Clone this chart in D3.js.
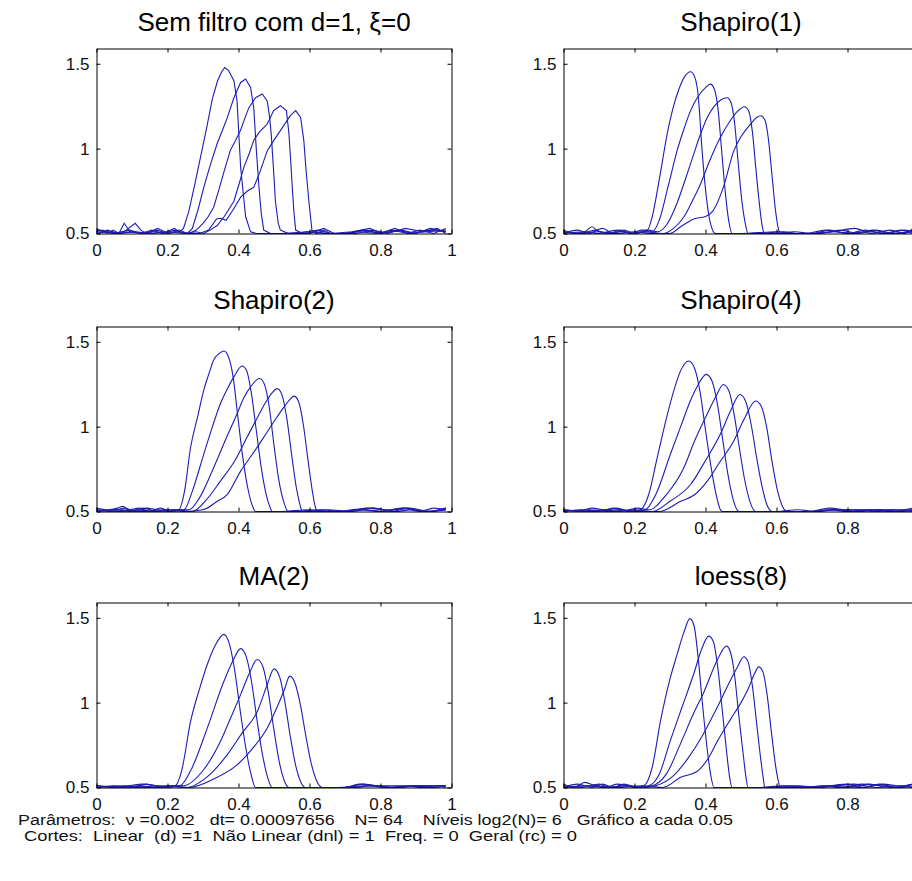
<!DOCTYPE html>
<html>
<head>
<meta charset="utf-8">
<script src="https://cdn.jsdelivr.net/npm/d3@7"></script>
<style>
  body { margin: 0; background: #fff; }
  .tick text { font-family: "Liberation Sans", Arial, sans-serif; font-size: 17px; fill: #111; }
</style>
</head>
<body>
<div id="chart-area"></div>
<script>
// snapshots of u(x) every 0.05 as [x, u] points

var semFiltro = [
    [[0,0.53],[0.031,0.5],[0.047,0.52],[0.063,0.5],[0.078,0.56],[0.094,0.51],[0.125,0.5],[0.156,0.52],[0.188,0.5],[0.219,0.53],[0.234,0.51],[0.245,0.53],[0.26,0.63],[0.276,0.78],[0.293,0.95],[0.31,1.12],[0.326,1.29],[0.341,1.40],[0.352,1.45],[0.361,1.478],[0.372,1.46],[0.387,1.40],[0.396,1.28],[0.406,0.89],[0.42,0.6],[0.434,0.51],[0.45,0.5],[0.52,0.5],[0.6,0.51],[0.64,0.5],[0.7,0.5],[0.75,0.52],[0.8,0.5],[0.84,0.53],[0.875,0.5],[0.91,0.52],[0.95,0.5],[0.984,0.53]],
    [[0,0.51],[0.016,0.52],[0.047,0.5],[0.078,0.51],[0.109,0.56],[0.125,0.52],[0.141,0.5],[0.172,0.53],[0.203,0.5],[0.234,0.52],[0.256,0.5],[0.27,0.53],[0.286,0.64],[0.302,0.77],[0.32,0.90],[0.34,1.03],[0.355,1.11],[0.368,1.18],[0.387,1.30],[0.406,1.39],[0.42,1.41],[0.434,1.36],[0.443,1.24],[0.45,1.0],[0.457,0.79],[0.464,0.62],[0.471,0.52],[0.49,0.5],[0.56,0.5],[0.625,0.52],[0.66,0.5],[0.72,0.51],[0.77,0.53],[0.8,0.5],[0.86,0.52],[0.9,0.5],[0.94,0.53],[0.984,0.51]],
    [[0,0.5],[0.031,0.52],[0.063,0.5],[0.094,0.51],[0.141,0.5],[0.17,0.52],[0.2,0.5],[0.23,0.51],[0.26,0.5],[0.281,0.52],[0.3,0.56],[0.315,0.6],[0.33,0.655],[0.345,0.76],[0.36,0.87],[0.377,0.99],[0.392,1.05],[0.406,1.11],[0.418,1.18],[0.429,1.24],[0.448,1.30],[0.467,1.322],[0.481,1.28],[0.488,1.18],[0.492,1.09],[0.498,0.9],[0.504,0.69],[0.512,0.56],[0.518,0.52],[0.54,0.5],[0.6,0.5],[0.64,0.53],[0.67,0.5],[0.73,0.5],[0.78,0.52],[0.82,0.5],[0.87,0.53],[0.92,0.51],[0.96,0.53],[0.984,0.5]],
    [[0,0.52],[0.047,0.5],[0.094,0.52],[0.125,0.5],[0.156,0.51],[0.19,0.5],[0.22,0.52],[0.25,0.5],[0.28,0.51],[0.302,0.5],[0.32,0.52],[0.34,0.547],[0.36,0.6],[0.387,0.69],[0.4,0.78],[0.415,0.89],[0.43,0.97],[0.443,1.05],[0.46,1.10],[0.481,1.145],[0.499,1.224],[0.518,1.253],[0.535,1.224],[0.542,1.09],[0.547,0.93],[0.551,0.79],[0.556,0.63],[0.561,0.52],[0.58,0.5],[0.62,0.51],[0.65,0.5],[0.7,0.5],[0.76,0.52],[0.8,0.5],[0.85,0.52],[0.89,0.5],[0.93,0.52],[0.984,0.51]],
    [[0,0.5],[0.031,0.51],[0.063,0.5],[0.109,0.51],[0.156,0.5],[0.2,0.51],[0.25,0.5],[0.29,0.5],[0.316,0.52],[0.338,0.586],[0.35,0.59],[0.365,0.578],[0.385,0.64],[0.406,0.714],[0.425,0.75],[0.443,0.772],[0.46,0.86],[0.481,0.988],[0.5,1.05],[0.518,1.106],[0.532,1.15],[0.546,1.194],[0.561,1.224],[0.575,1.184],[0.584,1.047],[0.59,0.88],[0.598,0.694],[0.607,0.518],[0.62,0.5],[0.64,0.52],[0.66,0.5],[0.7,0.5],[0.74,0.51],[0.79,0.5],[0.83,0.52],[0.88,0.5],[0.93,0.51],[0.984,0.52]]
];

var shapiro1 = [
    [[0,0.52],[0.03,0.5],[0.06,0.51],[0.08,0.54],[0.1,0.51],[0.13,0.5],[0.16,0.52],[0.19,0.5],[0.22,0.52],[0.236,0.52],[0.25,0.6],[0.27,0.82],[0.292,1.086],[0.31,1.25],[0.325,1.35],[0.34,1.42],[0.358,1.453],[0.37,1.42],[0.38,1.3],[0.39,1.0],[0.4,0.76],[0.41,0.6],[0.42,0.52],[0.428,0.5],[0.5,0.5],[0.6,0.51],[0.65,0.5],[0.7,0.5],[0.75,0.52],[0.8,0.5],[0.85,0.52],[0.9,0.5],[0.95,0.52],[0.984,0.5]],
    [[0,0.5],[0.04,0.52],[0.07,0.5],[0.11,0.53],[0.14,0.5],[0.17,0.52],[0.2,0.5],[0.23,0.51],[0.25,0.51],[0.27,0.58],[0.295,0.78],[0.32,0.988],[0.34,1.12],[0.358,1.224],[0.38,1.31],[0.4,1.36],[0.414,1.38],[0.425,1.35],[0.435,1.24],[0.445,1.0],[0.455,0.76],[0.465,0.58],[0.475,0.5],[0.55,0.5],[0.62,0.51],[0.66,0.5],[0.72,0.5],[0.78,0.52],[0.83,0.5],[0.88,0.52],[0.93,0.5],[0.984,0.52]],
    [[0,0.51],[0.05,0.5],[0.09,0.52],[0.12,0.5],[0.16,0.51],[0.2,0.5],[0.24,0.52],[0.264,0.51],[0.29,0.55],[0.32,0.68],[0.345,0.83],[0.367,0.969],[0.385,1.08],[0.405,1.184],[0.425,1.25],[0.445,1.29],[0.461,1.30],[0.472,1.27],[0.482,1.15],[0.492,0.92],[0.502,0.7],[0.512,0.56],[0.52,0.5],[0.6,0.5],[0.65,0.51],[0.7,0.5],[0.76,0.51],[0.82,0.5],[0.87,0.52],[0.92,0.5],[0.984,0.51]],
    [[0,0.5],[0.06,0.51],[0.1,0.5],[0.15,0.52],[0.19,0.5],[0.23,0.51],[0.28,0.5],[0.31,0.53],[0.34,0.6],[0.365,0.7],[0.386,0.792],[0.41,0.92],[0.442,1.067],[0.465,1.15],[0.49,1.22],[0.51,1.247],[0.522,1.22],[0.532,1.1],[0.542,0.88],[0.552,0.67],[0.56,0.54],[0.566,0.5],[0.62,0.5],[0.68,0.5],[0.74,0.52],[0.8,0.5],[0.86,0.51],[0.91,0.5],[0.96,0.52],[0.984,0.51]],
    [[0,0.51],[0.05,0.5],[0.1,0.51],[0.15,0.5],[0.2,0.51],[0.25,0.5],[0.3,0.5],[0.33,0.54],[0.367,0.586],[0.4,0.6],[0.42,0.63],[0.45,0.77],[0.48,0.988],[0.5,1.07],[0.527,1.145],[0.545,1.185],[0.555,1.194],[0.567,1.17],[0.577,1.06],[0.587,0.85],[0.597,0.64],[0.605,0.53],[0.612,0.5],[0.66,0.5],[0.7,0.5],[0.76,0.51],[0.82,0.53],[0.87,0.5],[0.92,0.52],[0.96,0.5],[0.984,0.53]]
];

var shapiro2 = [
    [[0,0.52],[0.03,0.51],[0.06,0.52],[0.075,0.53],[0.09,0.51],[0.12,0.52],[0.15,0.5],[0.18,0.52],[0.21,0.5],[0.232,0.51],[0.248,0.62],[0.265,0.877],[0.285,1.06],[0.302,1.214],[0.318,1.32],[0.33,1.393],[0.345,1.43],[0.359,1.446],[0.372,1.41],[0.385,1.29],[0.398,1.06],[0.412,0.82],[0.426,0.64],[0.438,0.54],[0.448,0.5],[0.52,0.5],[0.6,0.51],[0.66,0.5],[0.71,0.5],[0.76,0.52],[0.82,0.51],[0.87,0.52],[0.93,0.5],[0.984,0.52]],
    [[0,0.51],[0.04,0.5],[0.08,0.52],[0.11,0.5],[0.14,0.52],[0.17,0.51],[0.2,0.5],[0.247,0.51],[0.27,0.62],[0.302,0.837],[0.325,0.99],[0.349,1.135],[0.368,1.22],[0.387,1.293],[0.41,1.357],[0.423,1.33],[0.436,1.2],[0.45,0.98],[0.464,0.76],[0.478,0.6],[0.488,0.53],[0.495,0.5],[0.56,0.5],[0.63,0.51],[0.69,0.5],[0.74,0.51],[0.8,0.5],[0.86,0.52],[0.91,0.5],[0.95,0.52],[0.984,0.51]],
    [[0,0.5],[0.05,0.51],[0.1,0.5],[0.13,0.52],[0.17,0.5],[0.21,0.51],[0.26,0.51],[0.29,0.58],[0.33,0.758],[0.365,0.93],[0.396,1.076],[0.415,1.17],[0.434,1.234],[0.459,1.284],[0.473,1.25],[0.487,1.11],[0.5,0.89],[0.514,0.68],[0.527,0.56],[0.54,0.5],[0.6,0.5],[0.65,0.51],[0.72,0.5],[0.78,0.52],[0.84,0.5],[0.89,0.51],[0.94,0.5],[0.984,0.52]],
    [[0,0.51],[0.06,0.5],[0.11,0.51],[0.16,0.5],[0.22,0.51],[0.27,0.5],[0.31,0.57],[0.349,0.679],[0.39,0.8],[0.424,0.937],[0.455,1.06],[0.48,1.155],[0.495,1.2],[0.509,1.224],[0.522,1.19],[0.536,1.05],[0.55,0.83],[0.563,0.64],[0.572,0.55],[0.58,0.5],[0.64,0.5],[0.7,0.5],[0.75,0.51],[0.81,0.5],[0.87,0.52],[0.92,0.5],[0.984,0.51]],
    [[0,0.5],[0.07,0.51],[0.13,0.5],[0.19,0.51],[0.25,0.5],[0.3,0.51],[0.34,0.56],[0.368,0.599],[0.406,0.738],[0.44,0.84],[0.471,0.937],[0.5,1.03],[0.528,1.115],[0.545,1.16],[0.556,1.18],[0.569,1.15],[0.582,1.02],[0.596,0.8],[0.608,0.62],[0.616,0.53],[0.622,0.5],[0.68,0.5],[0.72,0.51],[0.78,0.52],[0.83,0.5],[0.88,0.52],[0.94,0.5],[0.984,0.51]]
];

var shapiro4 = [
    [[0,0.51],[0.04,0.5],[0.08,0.52],[0.12,0.51],[0.15,0.52],[0.19,0.5],[0.217,0.51],[0.24,0.6],[0.264,0.817],[0.29,1.05],[0.311,1.214],[0.33,1.33],[0.353,1.387],[0.37,1.34],[0.385,1.2],[0.4,0.98],[0.415,0.77],[0.43,0.6],[0.44,0.52],[0.447,0.5],[0.52,0.5],[0.6,0.5],[0.66,0.5],[0.71,0.5],[0.76,0.51],[0.82,0.5],[0.88,0.51],[0.94,0.5],[0.984,0.51]],
    [[0,0.5],[0.05,0.51],[0.1,0.5],[0.14,0.52],[0.18,0.5],[0.23,0.51],[0.26,0.6],[0.301,0.837],[0.33,1.0],[0.358,1.155],[0.38,1.25],[0.402,1.308],[0.418,1.27],[0.433,1.14],[0.448,0.93],[0.463,0.72],[0.478,0.57],[0.494,0.5],[0.56,0.5],[0.63,0.5],[0.69,0.5],[0.75,0.52],[0.8,0.51],[0.86,0.51],[0.92,0.5],[0.984,0.52]],
    [[0,0.51],[0.06,0.5],[0.11,0.51],[0.16,0.5],[0.21,0.52],[0.24,0.51],[0.29,0.6],[0.339,0.758],[0.37,0.92],[0.405,1.076],[0.43,1.18],[0.45,1.248],[0.466,1.21],[0.48,1.08],[0.495,0.88],[0.51,0.69],[0.525,0.56],[0.541,0.5],[0.6,0.5],[0.66,0.51],[0.71,0.5],[0.77,0.51],[0.83,0.5],[0.89,0.51],[0.95,0.5],[0.984,0.51]],
    [[0,0.5],[0.07,0.51],[0.13,0.5],[0.2,0.51],[0.25,0.5],[0.3,0.56],[0.358,0.659],[0.4,0.8],[0.442,0.956],[0.47,1.09],[0.497,1.189],[0.513,1.15],[0.528,1.02],[0.543,0.83],[0.558,0.66],[0.573,0.54],[0.588,0.5],[0.65,0.5],[0.7,0.5],[0.76,0.51],[0.82,0.51],[0.88,0.5],[0.93,0.51],[0.984,0.5]],
    [[0,0.51],[0.08,0.5],[0.15,0.51],[0.22,0.5],[0.27,0.5],[0.33,0.56],[0.37,0.6],[0.405,0.679],[0.44,0.79],[0.48,0.917],[0.51,1.05],[0.541,1.151],[0.557,1.12],[0.572,1.0],[0.587,0.8],[0.602,0.63],[0.617,0.53],[0.63,0.5],[0.7,0.5],[0.75,0.51],[0.8,0.5],[0.86,0.51],[0.92,0.51],[0.984,0.51]]
];

var ma2 = [
    [[0,0.51],[0.04,0.5],[0.09,0.51],[0.13,0.52],[0.17,0.51],[0.2,0.5],[0.222,0.51],[0.24,0.6],[0.265,0.889],[0.29,1.08],[0.312,1.225],[0.335,1.34],[0.359,1.402],[0.375,1.34],[0.39,1.18],[0.405,0.95],[0.42,0.74],[0.435,0.58],[0.448,0.5],[0.52,0.5],[0.6,0.5],[0.66,0.5],[0.72,0.5],[0.78,0.51],[0.84,0.5],[0.9,0.51],[0.95,0.5],[0.984,0.51]],
    [[0,0.5],[0.05,0.51],[0.1,0.5],[0.14,0.52],[0.19,0.5],[0.235,0.51],[0.27,0.62],[0.312,0.85],[0.359,1.126],[0.385,1.25],[0.406,1.318],[0.422,1.27],[0.437,1.12],[0.452,0.9],[0.467,0.7],[0.482,0.56],[0.495,0.5],[0.56,0.5],[0.64,0.5],[0.7,0.5],[0.74,0.52],[0.79,0.51],[0.85,0.5],[0.91,0.51],[0.984,0.51]],
    [[0,0.51],[0.07,0.5],[0.12,0.51],[0.17,0.5],[0.21,0.51],[0.245,0.51],[0.3,0.6],[0.349,0.771],[0.38,0.92],[0.406,1.047],[0.43,1.17],[0.453,1.254],[0.469,1.21],[0.484,1.06],[0.499,0.85],[0.514,0.66],[0.529,0.54],[0.542,0.5],[0.6,0.5],[0.68,0.5],[0.76,0.51],[0.82,0.5],[0.88,0.51],[0.94,0.5],[0.984,0.51]],
    [[0,0.5],[0.08,0.51],[0.15,0.5],[0.21,0.51],[0.255,0.5],[0.31,0.56],[0.368,0.692],[0.41,0.82],[0.453,0.948],[0.48,1.1],[0.5,1.199],[0.516,1.15],[0.531,1.0],[0.546,0.8],[0.561,0.63],[0.576,0.53],[0.589,0.5],[0.65,0.5],[0.72,0.5],[0.77,0.51],[0.83,0.5],[0.9,0.51],[0.96,0.51],[0.984,0.5]],
    [[0,0.51],[0.1,0.5],[0.18,0.51],[0.26,0.5],[0.33,0.55],[0.396,0.633],[0.44,0.73],[0.481,0.85],[0.51,0.98],[0.53,1.08],[0.544,1.156],[0.56,1.11],[0.575,0.98],[0.59,0.8],[0.605,0.64],[0.62,0.54],[0.636,0.5],[0.7,0.5],[0.75,0.52],[0.8,0.51],[0.86,0.51],[0.92,0.5],[0.96,0.51],[0.984,0.51]]
];

var loess8 = [
    [[0,0.52],[0.03,0.5],[0.06,0.53],[0.09,0.51],[0.12,0.5],[0.15,0.52],[0.18,0.51],[0.2,0.5],[0.226,0.51],[0.25,0.62],[0.273,0.889],[0.3,1.14],[0.32,1.284],[0.34,1.42],[0.356,1.495],[0.368,1.45],[0.38,1.25],[0.392,0.98],[0.404,0.74],[0.415,0.57],[0.424,0.5],[0.5,0.5],[0.57,0.5],[0.64,0.51],[0.7,0.5],[0.75,0.51],[0.8,0.52],[0.85,0.5],[0.9,0.52],[0.95,0.51],[0.984,0.52]],
    [[0,0.5],[0.04,0.52],[0.08,0.5],[0.11,0.52],[0.14,0.5],[0.17,0.52],[0.21,0.5],[0.24,0.51],[0.27,0.58],[0.3,0.77],[0.335,0.98],[0.367,1.17],[0.39,1.32],[0.409,1.392],[0.422,1.36],[0.435,1.2],[0.448,0.94],[0.46,0.7],[0.468,0.56],[0.475,0.5],[0.55,0.5],[0.62,0.51],[0.68,0.5],[0.74,0.51],[0.8,0.5],[0.86,0.52],[0.92,0.5],[0.984,0.52]],
    [[0,0.51],[0.05,0.5],[0.1,0.52],[0.13,0.5],[0.17,0.51],[0.21,0.5],[0.25,0.51],[0.29,0.58],[0.33,0.76],[0.365,0.93],[0.395,1.06],[0.433,1.25],[0.459,1.333],[0.47,1.3],[0.482,1.16],[0.494,0.92],[0.506,0.7],[0.514,0.56],[0.52,0.5],[0.6,0.5],[0.66,0.51],[0.72,0.5],[0.78,0.51],[0.84,0.5],[0.89,0.52],[0.94,0.5],[0.984,0.51]],
    [[0,0.5],[0.06,0.51],[0.12,0.5],[0.18,0.51],[0.23,0.5],[0.26,0.51],[0.31,0.57],[0.35,0.67],[0.39,0.8],[0.43,0.96],[0.47,1.13],[0.49,1.21],[0.508,1.27],[0.52,1.24],[0.532,1.1],[0.544,0.88],[0.556,0.66],[0.563,0.55],[0.567,0.5],[0.63,0.5],[0.7,0.5],[0.76,0.51],[0.82,0.52],[0.88,0.5],[0.93,0.51],[0.984,0.5]],
    [[0,0.5],[0.08,0.51],[0.15,0.5],[0.22,0.51],[0.28,0.5],[0.33,0.56],[0.376,0.594],[0.41,0.68],[0.433,0.771],[0.47,0.9],[0.5,1.0],[0.52,1.08],[0.538,1.17],[0.55,1.211],[0.562,1.18],[0.574,1.04],[0.586,0.82],[0.598,0.62],[0.606,0.53],[0.611,0.5],[0.68,0.5],[0.73,0.51],[0.78,0.5],[0.84,0.52],[0.9,0.51],[0.95,0.5],[0.984,0.52]]
];

var panelData = [semFiltro, shapiro1, shapiro2, shapiro4, ma2, loess8];
var panelTitles = ["Sem filtro com d=1, \u03BE=0", "Shapiro(1)", "Shapiro(2)", "Shapiro(4)", "MA(2)", "loess(8)"];
var xTicks = [0, 0.2, 0.4, 0.6, 0.8, 1];
var yTicks = [0.5, 1, 1.5];
var footerLines = [
    "Par\u00E2metros:  \u03BD =0.002   dt= 0.00097656    N= 64    N\u00EDveis log2(N)= 6   Gr\u00E1fico a cada 0.05",
    "Cortes:  Linear  (d) =1  N\u00E3o Linear (dnl) = 1  Freq. = 0  Geral (rc) = 0"
];

var colX = [96, 563],
    rowY = [48, 326, 602];
var width = 355, height = 185;
var tickLen = 4;
var pageWidth = 912;

var svg = d3.select("#chart-area")
    .append("svg")
        .attr("width", pageWidth)
        .attr("height", 881)
        .style("display", "block");

var x = d3.scaleLinear().domain([0, 1]).range([0, width]);
var y = d3.scaleLinear().domain([0.5, 1.59]).range([height, 0]);

panelData.forEach(function(curves, i) {
    var left = colX[i % 2];
    var g = svg.append("g")
        .attr("transform", "translate(" + (left + 0.5) + "," + (rowY[Math.floor(i / 2)] + 0.5) + ")");

    // Title
    g.append("text")
        .attr("x", width / 2)
        .attr("y", -18)
        .attr("text-anchor", "middle")
        .attr("font-family", "Liberation Sans, Arial, sans-serif")
        .attr("font-size", "26px")
        .attr("fill", "#000")
        .text(panelTitles[i]);

    // Curves
    var line = d3.line()
        .x(function(d) { return x(d[0]); })
        .y(function(d) { return y(d[1]); })
        .curve(i === 0 ? d3.curveLinear : d3.curveMonotoneX);

    g.selectAll("path.curve")
        .data(curves)
        .enter()
        .append("path")
            .attr("class", "curve")
            .attr("d", line)
            .attr("fill", "none")
            .attr("stroke", "#1d1db4")
            .attr("stroke-width", 1.1);

    // x tick labels that fall past the page edge are not drawn (right column)
    var xLabelTicks = xTicks.filter(function(t) { return left + x(t) + 6 < pageWidth; });

    // Axes (ticks point inward, like the original)
    g.append("g")
        .attr("transform", "translate(0," + height + ")")
        .call(d3.axisBottom(x).tickValues(xTicks).tickSizeInner(-tickLen).tickSizeOuter(0).tickPadding(10)
            .tickFormat(function(d) { return xLabelTicks.indexOf(d) >= 0 ? d : ""; }));
    g.append("g")
        .call(d3.axisTop(x).tickValues(xTicks).tickSizeInner(-tickLen).tickSizeOuter(0).tickFormat(""));
    g.append("g")
        .call(d3.axisLeft(y).tickValues(yTicks).tickSizeInner(-tickLen).tickSizeOuter(0).tickPadding(7)
            .tickFormat(function(d) { return d; }));
    g.append("g")
        .attr("transform", "translate(" + width + ",0)")
        .call(d3.axisRight(y).tickValues(yTicks).tickSizeInner(-tickLen).tickSizeOuter(0).tickFormat(""));

    g.selectAll(".domain").attr("stroke", "#000");
    g.selectAll(".tick line").attr("stroke", "#000");
    g.selectAll(".tick text").filter(function() { return this.textContent === ""; }).remove();
});

// Footer
svg.selectAll("text.footer")
    .data(footerLines)
    .enter()
    .append("text")
        .attr("class", "footer")
        .attr("x", function(d, i) { return i === 0 ? 18 : 24; })
        .attr("y", function(d, i) { return 825 + i * 16; })
        .attr("font-family", "Liberation Sans Narrow, Arial Narrow, Liberation Sans, sans-serif")
        .attr("font-size", "14px")
        .attr("fill", "#111")
        .attr("textLength", function(d, i) { return i === 0 ? 715 : 553; })
        .attr("lengthAdjust", "spacingAndGlyphs")
        .style("white-space", "pre")
        .text(function(d) { return d; });
</script>
</body>
</html>
